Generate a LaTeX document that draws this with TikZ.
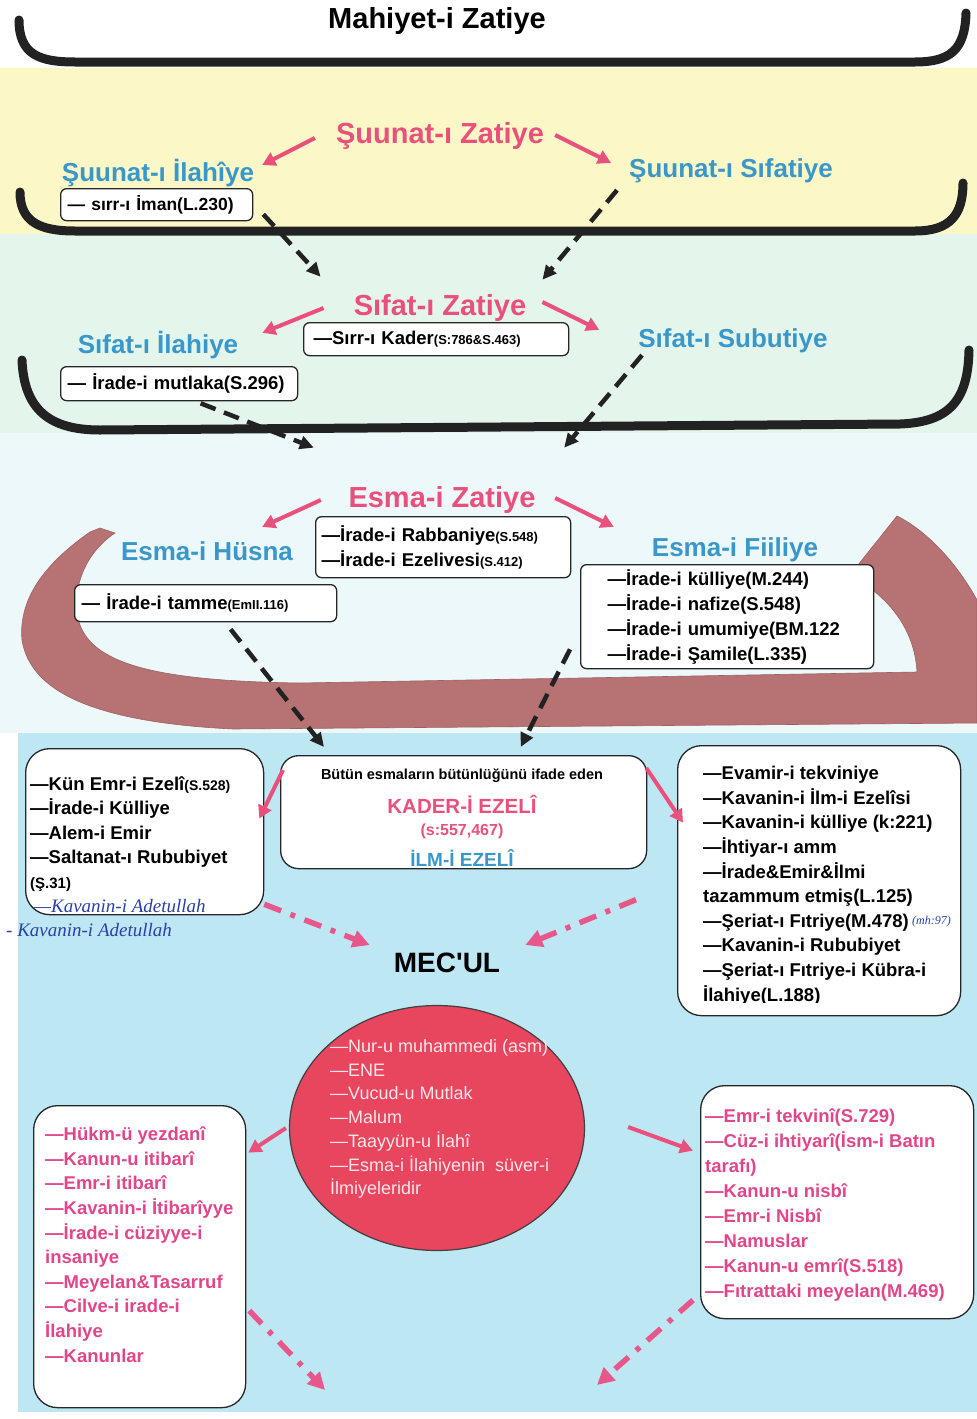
\documentclass[tikz,border=0pt]{standalone}
\usepackage{fontspec}
\setmainfont{Liberation Sans}
\newfontfamily\handf{Liberation Serif}
\usetikzlibrary{arrows.meta,shapes.geometric,calc}
\definecolor{bgyel}{HTML}{FBF7C6}
\definecolor{bggrn}{HTML}{E4F6EC}
\definecolor{bglt}{HTML}{EDF8FA}
\definecolor{bgblu}{HTML}{BEE7F4}
\definecolor{hpink}{HTML}{E9507C}
\definecolor{hblue}{HTML}{3A97C9}
\definecolor{lpink}{HTML}{E2468A}
\definecolor{dpink}{HTML}{E8578A}
\definecolor{swoosh}{HTML}{B77273}
\definecolor{circ}{HTML}{E8455F}
\definecolor{cwhite}{HTML}{FBE6EA}
\definecolor{pen}{HTML}{2B3FA8}
\definecolor{ink}{HTML}{222222}
\newcommand\fsz[1]{\fontsize{#1}{#1}\selectfont}
\begin{document}
\begin{tikzpicture}[x=1pt,y=-1pt,
  ph/.style={font=\bfseries\fsz{29}, text=hpink, inner sep=0pt, text height=21pt, text depth=0pt},
  bh/.style={font=\bfseries\fsz{26}, text=hblue, inner sep=0pt, text height=18.7pt, text depth=0pt},
  tbox/.style={draw=black!85, line width=1.3pt, fill=white, rounded corners=6pt, inner ysep=0pt, anchor=north west, align=left, font=\bfseries\fontsize{18.5}{25}\selectfont},
  lbox/.style={draw=black!85, line width=1.3pt, fill=white, rounded corners=24pt, inner sep=0pt, anchor=north west},
  lst/.style={anchor=west, align=left, inner sep=0pt, font=\bfseries\fontsize{18.5}{24.6}\selectfont},
  parr/.style={draw=hpink, line width=4pt, -{Triangle[length=13pt,width=14pt]}},
  darr/.style={draw=ink, line width=4.5pt, dash pattern=on 16pt off 9pt, -{Triangle[length=14pt,width=13pt]}},
  ddarr/.style={draw=dpink, line width=5.5pt, dash pattern=on 18pt off 10pt on 5pt off 10pt, -{Triangle[length=17pt,width=17pt]}},
  brk/.style={draw=ink, line width=9pt, line cap=round},
  hw/.style={font=\handf\itshape\fsz{19}, text=pen, inner sep=0pt, anchor=west}
]
\useasboundingbox (0,0) rectangle (977,1419);
% backgrounds
\fill[white] (0,0) rectangle (977,1419);
\fill[bgyel] (0,68) rectangle (977,234);
\fill[bggrn] (0,234) rectangle (977,433);
\fill[bglt] (0,433) rectangle (977,733);
\fill[bgblu] (18,733) rectangle (977,1412);
% brackets
\draw[brk] (19,20) .. controls (19,55) and (40,62) .. (75,62) -- (915,62) .. controls (950,62) and (965,50) .. (966,13);
\draw[brk] (20,192) .. controls (20,222) and (40,231) .. (75,231) -- (915,231) .. controls (950,231) and (963,215) .. (963,183);
\draw[brk] (22,360) .. controls (24,410) and (50,430) .. (100,430) -- (900,424) .. controls (950,422) and (968,400) .. (969,350);
% swoosh
\filldraw[fill=swoosh, draw=swoosh!85!black, line width=0.6pt] (90,532) .. controls (50,560) and (18,595) .. (22,640) .. controls (30,690) and (90,722) .. (233,729) -- (977,723) -- (977,600) .. controls (955,560) and (925,530) .. (897,516) -- (850,575) .. controls (895,600) and (915,635) .. (917,672) -- (300,683) .. controls (160,681) and (95,665) .. (80,625) .. controls (70,595) and (82,555) .. (115,533) -- (100,528) -- cycle;

% headings
\node[font=\bfseries\fsz{29}, inner sep=0pt] (title) at (437,21) {Mahiyet-i Zatiye};
\node[ph] (sz) at (440,133) {Şuunat-ı Zatiye};
\node[bh] (si) at (158,172) {Şuunat-ı İlahîye};
\node[bh] (ss) at (731,168) {Şuunat-ı Sıfatiye};
\node[ph] (fz) at (440,305) {Sıfat-ı Zatiye};
\node[bh] (fi) at (158,344) {Sıfat-ı İlahiye};
\node[bh] (fs) at (733,338) {Sıfat-ı Subutiye};
\node[ph] (ez) at (442,497) {Esma-i Zatiye};
\node[bh] (eh) at (207,551) {Esma-i Hüsna};
\node[bh] (ef) at (735,547) {Esma-i Fiiliye};

% small boxes
\node[tbox, minimum height=32pt, text width=178pt, inner xsep=7pt] (b1) at (60,188) {\mbox{\fsz{17.5}— sırr-ı İman(L.230)}};
\node[tbox, minimum height=33pt, text width=245pt, inner xsep=10pt] (b2) at (303,322) {\mbox{—Sırr-ı Kader{\fsz{13}(S:786\&S.463)}}};
\node[tbox, minimum height=34pt, text width=223pt, inner xsep=7pt] (b3) at (60,366) {\mbox{— İrade-i mutlaka(S.296)}};
\node[tbox, minimum height=61pt, text width=243pt, inner xsep=6pt] (b4) at (315,516) {—İrade-i Rabbaniye{\fsz{13}(S.548)}\\—İrade-i Ezelivesi{\fsz{13}(S.412)}};
\node[tbox, minimum height=37pt, text width=248pt, inner xsep=7pt] (b5) at (74,584) {\mbox{— İrade-i tamme{\fsz{13}(EmII.116)}}};
\node[tbox, minimum height=104pt, text width=265pt, inner xsep=14pt] (b6) at (580,564) {\hspace*{13pt}—İrade-i külliye(M.244)\\\hspace*{13pt}—İrade-i nafize(S.548)\\\hspace*{13pt}—İrade-i umumiye(BM.122\\\hspace*{13pt}—İrade-i Şamile(L.335)};

% lower boxes
\node[lbox, minimum width=238pt, minimum height=166pt] (b7) at (25,748) {};
\node[lbox, rounded corners=18pt, minimum width=366pt, minimum height=113pt] (b8) at (280,755) {};
\node[lbox, minimum width=283pt, minimum height=270pt] (b9) at (677,745) {};
\node[lbox, minimum width=212pt, minimum height=302pt] (b10) at (33,1105) {};
\node[lbox, minimum width=273pt, minimum height=233pt] (b11) at (700,1085) {};

\node[lst] (t7) at (30,834) {—Kün Emr-i Ezelî{\fsz{14}(S.528)}\\—İrade-i Külliye\\—Alem-i Emir\\—Saltanat-ı Rububiyet\\{\fsz{15}(Ş.31)}};
\node[hw] (hw1) at (34,906) {—Kavanin-i Adetullah};
\node[hw] (hw2) at (6,930) {- Kavanin-i Adetullah};

\node[font=\bfseries\fsz{14.5}, inner sep=0pt] (k1) at (462,776) {Bütün esmaların bütünlüğünü ifade eden};
\node[font=\bfseries\fsz{20.5}, text=hpink, inner sep=0pt] (k2) at (462,804) {KADER-İ EZELÎ};
\node[font=\bfseries\fsz{16}, text=hpink, inner sep=0pt] (k3) at (462,831) {(s:557,467)};
\node[font=\bfseries\fsz{19}, text=hblue, inner sep=0pt] (k4) at (462,858) {İLM-İ EZELÎ};

\begin{scope}
\clip (677,745) rectangle (960,1002);
\node[lst] (t9) at (703,885.7) {—Evamir-i tekviniye\\—Kavanin-i İlm-i Ezelîsi\\—Kavanin-i külliye (k:221)\\—İhtiyar-ı amm\\—İrade\&Emir\&İlmi\\tazammum etmiş(L.125)\\—Şeriat-ı Fıtriye(M.478)\\—Kavanin-i Rububiyet\\—Şeriat-ı Fıtriye-i Kübra-i\\İlahiye(L.188)};
\end{scope}
\node[hw, font=\handf\itshape\fsz{12}] (hw3) at (912,922) {(mh:97)};

\node[font=\bfseries\fsz{28}, inner sep=0pt, text height=20pt, text depth=0pt] (mec) at (447,962) {MEC\textquotesingle UL};

\node[ellipse, draw=black!75, line width=1.2pt, fill=circ, minimum width=295pt, minimum height=245pt, inner sep=0pt] (circ) at (437,1128) {};
\node[anchor=west, align=left, inner sep=0pt, text=cwhite, font=\fontsize{18}{23.7}\selectfont] (ct) at (330,1119) {—Nur-u muhammedi (asm)\\—ENE\\—Vucud-u Mutlak\\—Malum\\—Taayyün-u İlahî\\—Esma-i İlahiyenin~ süver-i\\İlmiyeleridir};

\node[lst, text=lpink] (t10) at (45,1244.5) {—Hükm-ü yezdanî\\—Kanun-u itibarî\\—Emr-i itibarî\\—Kavanin-i İtibarîyye\\—İrade-i cüziyye-i\\insaniye\\—Meyelan\&Tasarruf\\—Cilve-i irade-i\\İlahiye\\—Kanunlar};
\node[lst, text=lpink, font=\bfseries\fontsize{18.5}{25}\selectfont] (t11) at (705,1204.5) {—Emr-i tekvinî(S.729)\\—Cüz-i ihtiyarî(İsm-i Batın\\tarafı)\\—Kanun-u nisbî\\—Emr-i Nisbî\\—Namuslar\\—Kanun-u emrî(S.518)\\—Fıtrattaki meyelan(M.469)};

\coordinate (e1) at (325,1390);
\coordinate (e2) at (597,1385);

% pink heading arrows
\draw[parr] ($(sz.west)+(-21,5)$) -- ($(si.north east)+(8,2.5)$);
\draw[parr] ($(sz.east)+(11,2)$) -- ($(ss.north west)+(-18,4.4)$);
\draw[parr] ($(fz.west)+(-30,3)$) -- ($(fi.north east)+(24,-1.6)$);
\draw[parr] ($(fz.east)+(16,-3)$) -- ($(fs.north west)+(-39,1.4)$);
\draw[parr] ($(ez.west)+(-27.5,3)$) -- ($(eh.north east)+(-31,-14.6)$);
\draw[parr] ($(ez.east)+(19.5,1)$) -- ($(ef.north west)+(-38,-10.6)$);

% black dashed arrows
\draw[darr] ($(b1.south east)+(10,-7)$) -- ($(fz.north west)+(-33,-17.6)$);
\draw[darr] ($(ss.south)+(-114,12.6)$) -- ($(fz.north east)+(16,-14.6)$);
\draw[darr] ($(b3.south)+(21.5,2)$) -- ($(ez.north west)+(-34.5,-38.6)$);
\draw[darr] ($(fs.south)+(-91,7.6)$) -- ($(ez.north east)+(28.5,-38.6)$);
\draw[darr] ($(b5.south)+(25,7)$) -- ($(b8.north west)+(44,-8)$);
\draw[darr] ($(b6.south west)+(-10,-20)$) -- ($(b8.north)+(57,-8)$);

% pink arrows lower
\draw[parr] ($(b8.north west)+(3,15)$) -- ($(b7.east)+(-5,-13)$);
\draw[parr] ($(b8.north east)+(-1,13)$) -- ($(b9.west)+(6,-58)$);
\draw[parr] ($(circ.west)+(-3,0)$) -- ($(b10.east)+(2,-104)$);
\draw[parr] ($(circ.east)+(43,-1)$) -- ($(b11.west)+(-7,-51.5)$);

% pink dash-dot arrows
\draw[ddarr] ($(b7.south east)+(0,-11)$) -- ($(mec.west)+(-24,-17)$);
\draw[ddarr] ($(b9.west)+(-41,19)$) -- ($(mec.east)+(25,-17)$);
\draw[ddarr] ($(b10.east)+(3,54)$) -- (e1);
\draw[ddarr] ($(b11.west)+(-7,98)$) -- (e2);
\end{tikzpicture}
\end{document}
